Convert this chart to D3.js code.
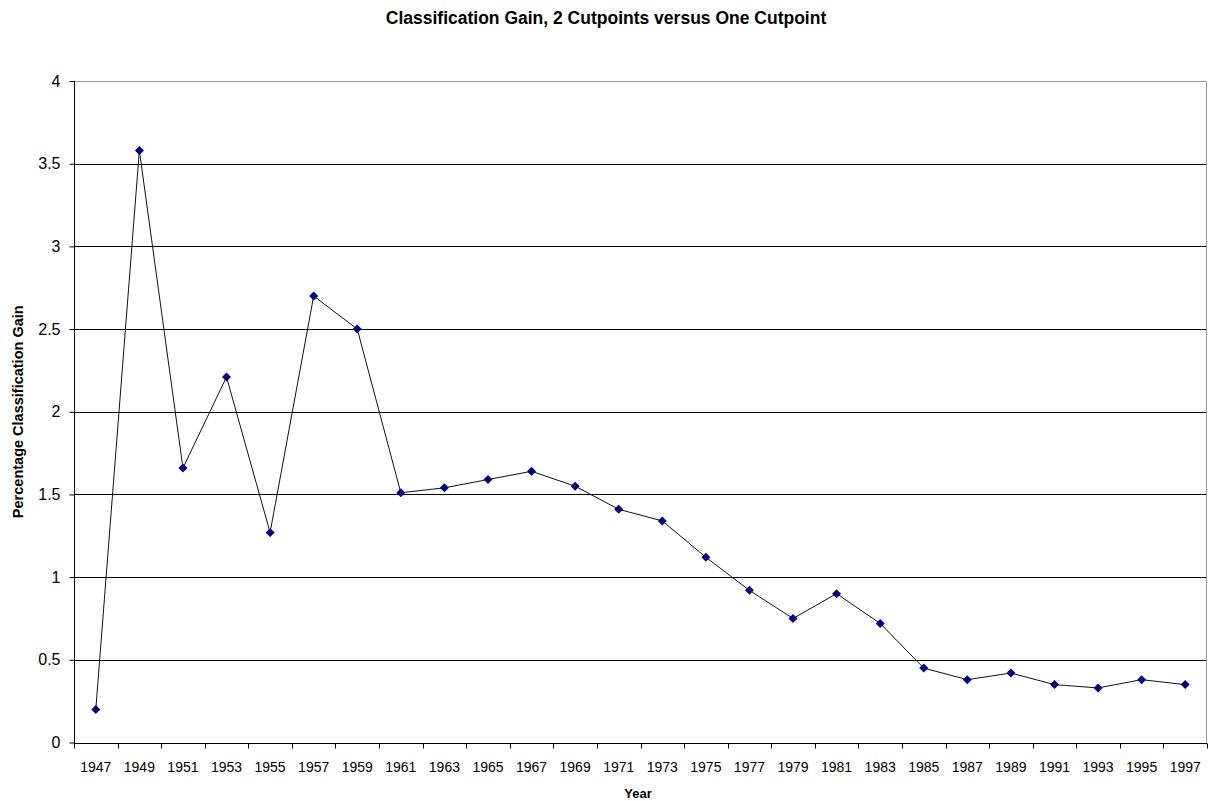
<html>
<script src="https://d3js.org/d3.v7.min.js"></script>
<style>
    body { margin: 0; background: #fff; }
    text { font-family: Arial, "Liberation Sans", sans-serif; }
</style>
<body>
<svg width="1208" height="801"></svg>
<script>
    // data
    var years = ["1947","1949","1951","1953","1955","1957","1959","1961","1963","1965","1967","1969","1971",
                 "1973","1975","1977","1979","1981","1983","1985","1987","1989","1991","1993","1995","1997"];
    var gain = [0.20, 3.58, 1.66, 2.21, 1.27, 2.70, 2.50, 1.51, 1.54, 1.59, 1.64, 1.55, 1.41,
                1.34, 1.12, 0.92, 0.75, 0.90, 0.72, 0.45, 0.38, 0.42, 0.35, 0.33, 0.38, 0.35];
    var yTicks = [0, 0.5, 1, 1.5, 2, 2.5, 3, 3.5, 4];

    function draw() {
        var pLeft = 74, pRight = 1207, pTop = 81, pBottom = 742.5;
        var svg = d3.select("svg");

        var xs = d3.scaleBand().domain(years).range([pLeft, pRight]);
        var ys = d3.scaleLinear().domain([0, 4]).range([pBottom, pTop]);

        // gridlines
        svg.append("g").selectAll("line").data(yTicks.filter(function (d) { return d > 0 && d < 4; }))
            .enter().append("line")
            .attr("x1", pLeft).attr("x2", pRight)
            .attr("y1", function (d) { return Math.round(ys(d)) + 0.5; })
            .attr("y2", function (d) { return Math.round(ys(d)) + 0.5; })
            .attr("stroke", "#000").attr("stroke-width", 1);

        // plot area border top / right (gray)
        svg.append("path")
            .attr("d", "M" + pLeft + "," + (pTop + 0.5) + "H" + (pRight - 0.5) + "V" + pBottom)
            .attr("fill", "none").attr("stroke", "#999").attr("stroke-width", 1);

        // y axis
        var yAxis = svg.append("g")
            .attr("transform", "translate(" + (pLeft + 0.5) + ",0)")
            .call(d3.axisLeft(ys).tickValues(yTicks).tickSize(5).tickPadding(9).tickFormat(d3.format("")));
        yAxis.selectAll("text").attr("font-size", 16).attr("fill", "#000")
            .attr("font-family", "Arial, 'Liberation Sans', sans-serif");
        yAxis.selectAll("line, path").attr("stroke", "#000");
        yAxis.select("path").attr("d", "M0," + pTop + "V" + (pBottom + 0.5));

        // x axis, ticks between categories
        var xAxis = svg.append("g")
            .attr("transform", "translate(0," + (Math.round(pBottom) + 0.5) + ")");
        xAxis.append("line").attr("x1", pLeft).attr("x2", pRight).attr("stroke", "#000");
        var bounds = years.map(function (d) { return xs(d); }).concat([pRight]);
        xAxis.selectAll("line.tick").data(bounds).enter().append("line")
            .attr("class", "tick")
            .attr("x1", function (d) { return Math.round(d) + 0.5; })
            .attr("x2", function (d) { return Math.round(d) + 0.5; })
            .attr("y1", 0).attr("y2", 5).attr("stroke", "#000");
        xAxis.selectAll("text").data(years).enter().append("text")
            .attr("x", function (d) { return xs(d) + xs.bandwidth() / 2; })
            .attr("y", 28)
            .attr("text-anchor", "middle")
            .attr("font-size", 14)
            .text(function (d) { return d; });

        // series line
        var line = d3.line()
            .x(function (d, i) { return xs(years[i]) + xs.bandwidth() / 2; })
            .y(function (d) { return ys(d); });
        svg.append("path").datum(gain)
            .attr("d", line)
            .attr("fill", "none").attr("stroke", "#111").attr("stroke-width", 1);

        // diamond markers
        svg.append("g").selectAll("path").data(gain).enter().append("path")
            .attr("transform", function (d, i) {
                return "translate(" + (xs(years[i]) + xs.bandwidth() / 2) + "," + ys(d) + ")";
            })
            .attr("d", "M0,-4.5L4.5,0L0,4.5L-4.5,0Z")
            .attr("fill", "#000080");

        // titles
        svg.append("text")
            .attr("x", 606).attr("y", 24)
            .attr("text-anchor", "middle")
            .attr("font-size", 17.5).attr("font-weight", "bold")
            .text("Classification Gain, 2 Cutpoints versus One Cutpoint");

        svg.append("text")
            .attr("x", 638).attr("y", 798)
            .attr("text-anchor", "middle")
            .attr("font-size", 13).attr("font-weight", "bold")
            .text("Year");

        svg.append("text")
            .attr("transform", "translate(23," + ((pTop + pBottom) / 2) + ") rotate(-90)")
            .attr("text-anchor", "middle")
            .attr("font-size", 14.5).attr("font-weight", "bold")
            .text("Percentage Classification Gain");
    }
    draw();
</script>
</body>
</html>
